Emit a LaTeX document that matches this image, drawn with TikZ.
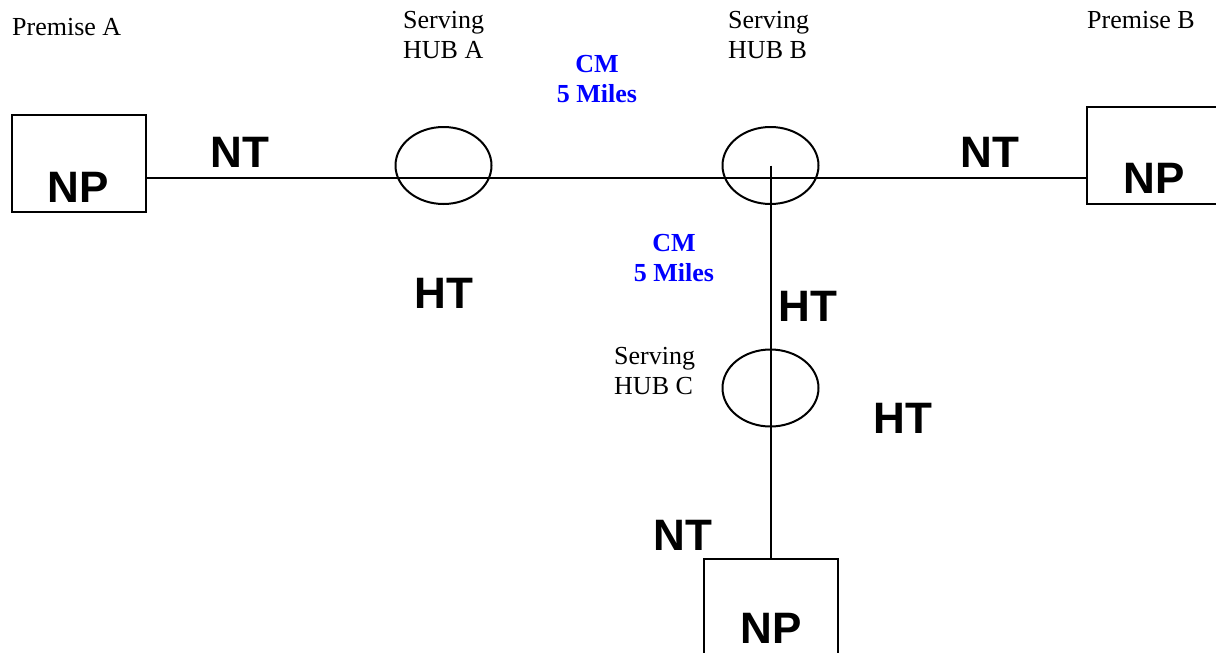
\documentclass[tikz,border=0pt]{standalone}
\usepackage{fontspec}
\setmainfont{Liberation Serif}
\newfontfamily\arialfam{Liberation Sans}
\usetikzlibrary{shapes.geometric}
\definecolor{cmblue}{RGB}{0,0,255}
\newcommand{\bigsans}{\arialfam\bfseries\fontsize{44}{50}\selectfont}
\newcommand{\lblfont}{\fontsize{26}{30}\selectfont}
\newcommand{\cmfont}{\bfseries\fontsize{26}{30}\selectfont}
\newcommand{\twolinesL}[2]{\begin{tabular}[t]{@{}l@{}}#1\\#2\end{tabular}}
\newcommand{\twolinesC}[2]{\begin{tabular}[t]{@{}c@{}}#1\\#2\end{tabular}}
\begin{document}
\begin{tikzpicture}[x=1pt,y=-1pt,
  npbox/.style={draw, line width=2pt, minimum width=134pt, minimum height=97pt, inner sep=0pt},
  hubshape/.style={draw, ellipse, line width=2pt, minimum width=96pt, minimum height=77pt, inner sep=0pt},
  wire/.style={line width=2pt},
  bigtxt/.style={font=\bigsans, anchor=base, inner sep=0pt},
  lbltxt/.style={font=\lblfont, anchor=base west, inner sep=0pt},
  cmtxt/.style={font=\cmfont, text=cmblue, anchor=base, inner sep=0pt}]
\useasboundingbox (0,0) rectangle (1216,653);
% boxes
\node[npbox] (boxA) at (79,163.5) {};
\node[npbox] (boxB) at (1154,155.5) {};
\node[npbox] (boxC) at (770.5,607.5) {};
% hubs
\node[hubshape] (hubA) at (443.5,165.5) {};
\node[hubshape] (hubB) at (770.5,165.5) {};
\node[hubshape] (hubC) at (770.5,388) {};
% connectors
\coordinate (rowy) at (0,178);
\draw[wire] (boxA.east |- rowy) -- (boxB.west |- rowy);
\draw[wire] (hubB.center) -- (boxC.north);
% big labels
\node[bigtxt] (npA) at (78,202) {NP};
\node[bigtxt] (npB) at (1154,193) {NP};
\node[bigtxt] (npC) at (771,643) {NP};
\node[bigtxt] (ntA) at (240,167) {NT};
\node[bigtxt] (ntB) at (990,167) {NT};
\node[bigtxt] (ntC) at (683,550) {NT};
\node[bigtxt] (htA) at (444,308) {HT};
\node[bigtxt] (htB) at (808,321) {HT};
\node[bigtxt] (htC) at (903,433) {HT};
% small labels
\node[lbltxt] (premA) at (12,35) {Premise A};
\node[lbltxt] (premB) at (1087,28) {Premise B};
\node[lbltxt] (servA) at (403,28) {\twolinesL{Serving}{HUB A}};
\node[lbltxt] (servB) at (728,28) {\twolinesL{Serving}{HUB B}};
\node[lbltxt] (servC) at (614,364) {\twolinesL{Serving}{HUB C}};
\node[cmtxt] (cmA) at (597,72) {\twolinesC{CM}{5 Miles}};
\node[cmtxt] (cmB) at (674,251) {\twolinesC{CM}{5 Miles}};
\end{tikzpicture}
\end{document}
